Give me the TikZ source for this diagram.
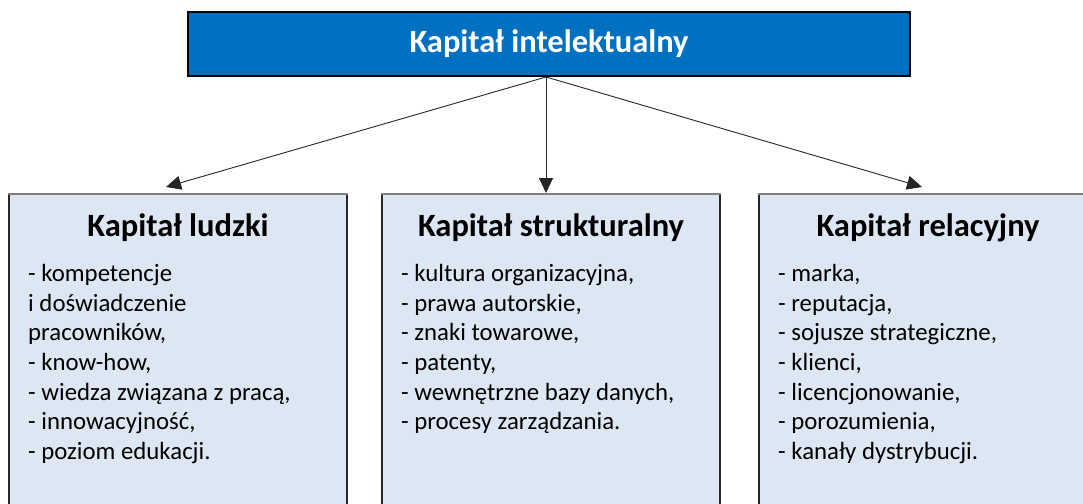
\documentclass[tikz,border=0pt]{standalone}
\usepackage{fontspec}
\setmainfont{Carlito}
\usetikzlibrary{arrows.meta}
\definecolor{topblue}{HTML}{0070C0}
\definecolor{boxfill}{HTML}{DDE7F3}
\definecolor{edgegray}{HTML}{7F7F7F}
\begin{document}
\begin{tikzpicture}[x=1pt,y=-1pt,
  topbox/.style={draw=black, line width=1.3pt, fill=topblue, minimum width=722pt,
    minimum height=64pt, inner sep=0pt, text=white,
    font=\fontsize{32.5}{38}\selectfont\bfseries},
  catbox/.style={draw=black!85, line width=1.2pt, fill=boxfill, minimum width=338pt,
    minimum height=340pt, anchor=north, inner sep=0pt},
  cattitle/.style={font=\fontsize{32.5}{38}\selectfont\bfseries, anchor=base},
  itemlist/.style={font=\fontsize{24.8}{29.7}\selectfont, align=left,
    anchor=north west, inner sep=0pt},
  link/.style={draw=black!85, line width=0.9pt, -{Triangle[length=15pt,width=14pt]}}
]
\useasboundingbox (0,0) rectangle (1083,503);
\clip (0,0) rectangle (1083,503);

% top node
\node[topbox] (ic) at (549,44) {Kapitał intelektualny};

% three component boxes
\node[catbox] (hc) at (178,194) {};
\node[catbox] (sc) at (551,194) {};
\node[catbox] (rc) at (928,194) {};
\foreach \b in {hc,sc,rc}
  \draw[edgegray, line width=1.6pt] (\b.north west) -- (\b.north east);

% titles
\node[cattitle] (hct) at (178,236) {Kapitał ludzki};
\node[cattitle] (sct) at (551,236) {Kapitał strukturalny};
\node[cattitle] (rct) at (928,236) {Kapitał relacyjny};

% item lists
\node[itemlist] (hcl) at (28,264) {- kompetencje\\i doświadczenie\\pracowników,\\- know-how,\\- wiedza związana z pracą,\\- innowacyjność,\\- poziom edukacji.};
\node[itemlist] (scl) at (401,264) {- kultura organizacyjna,\\- prawa autorskie,\\- znaki towarowe,\\- patenty,\\- wewnętrzne bazy danych,\\- procesy zarządzania.};
\node[itemlist] (rcl) at (778,264) {- marka,\\- reputacja,\\- sojusze strategiczne,\\- klienci,\\- licencjonowanie,\\- porozumienia,\\- kanały dystrybucji.};

% connectors
\coordinate (src) at (546,77);
\coordinate (hcin) at (166,187);
\coordinate (scin) at (546,193);
\coordinate (rcin) at (922,187);
\draw[link] (src) -- (hcin);
\draw[link] (src) -- (scin);
\draw[link] (src) -- (rcin);
\end{tikzpicture}
\end{document}
